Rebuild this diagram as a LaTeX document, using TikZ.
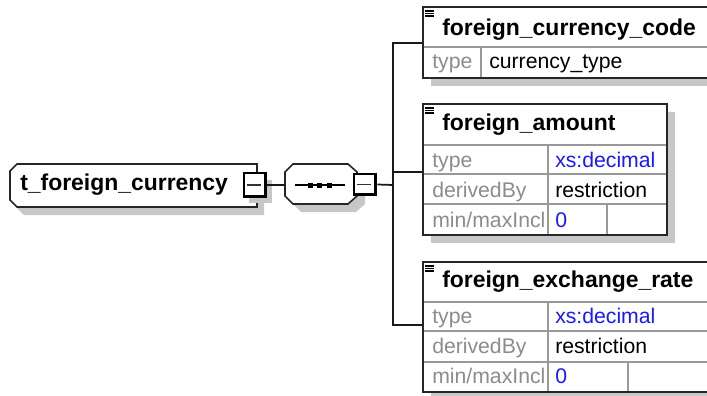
\documentclass[tikz,border=0pt]{standalone}
\usepackage{fontspec}
\setmainfont{Liberation Sans}
\usetikzlibrary{calc}
\usetikzlibrary{positioning}

\tikzset{
 shadow/.style={fill=black!22, draw=none},
 frame/.style={draw=black!85, line width=1.5pt},
 rule/.style={draw=black!40, line width=1pt},
 conn/.style={draw=black!90, line width=1.3pt},
 minus/.style={draw=black, fill=white, line width=1.5pt, inner sep=0, minimum width=17pt},
 title/.style={anchor=base west, inner sep=0, font=\fontsize{17.2}{20}\selectfont\bfseries},
 lbl/.style={anchor=base west, inner sep=0, text=black!45, font=\fontsize{15.9}{18}\selectfont},
 val/.style={anchor=base west, inner sep=0, font=\fontsize{15.9}{18}\selectfont},
 xsval/.style={val, text=blue!90!white},
}

\begin{document}
\begin{tikzpicture}[x=0.75pt,y=-0.75pt]
\useasboundingbox (0,0) rectangle (707,396);
\clip (0,0) rectangle (707,396);

% shadows
\fill[shadow] (24,172) -- (264,172) -- (264,215) -- (24,215) -- (17,208) -- (17,179) -- cycle;
\fill[shadow] (301,172) -- (356,172) -- (365,180) -- (365,204) -- (356,212) -- (301,212) -- (293,204) -- (293,180) -- cycle;
\fill[shadow] (431,15) rectangle (720,86);
\fill[shadow] (431,112) rectangle (675,243);
\fill[shadow] (431,270) rectangle (716,400);

% complex type t_foreign_currency
\filldraw[frame, fill=white, line width=1.2pt] (17,164) -- (257,164) -- (257,207) -- (17,207) -- (10,200) -- (10,171) -- cycle;
\node[title] (root) at (20,190) {t\_foreign\_currency};
\fill[shadow] (249,180) rectangle (272,203);
\node[minus, minimum height=18.5pt] (rootminus) at (255,185) {};

% sequence
\filldraw[frame, fill=white, line width=1.2pt] (293,164) -- (348,164) -- (357,172) -- (357,196) -- (348,204) -- (293,204) -- (285,196) -- (285,172) -- cycle;
\coordinate (seq) at (285,185);
\draw[black, line width=1.1pt] (295,185) -- (345,185);
\foreach \x in {310,319.5,329} {
 \fill[black] (\x-2.5,182.5) rectangle ++(5,5);
}
\node[minus, minimum height=16pt] (seqminus) at (365,184.5) {};

\foreach \m in {rootminus,seqminus} {
 \draw[black, line width=2.5pt] ([xshift=-1.2pt]\m.north east) -- ([xshift=-1.2pt,yshift=1.2pt]\m.south east) -- ([yshift=1.2pt]\m.south west);
 \draw[black!80, line width=1.3pt] ([xshift=3.5pt]\m.west) -- ([xshift=-4.5pt]\m.east);
}

% connectors
\coordinate (trunk) at (393,185);
\coordinate (code) at (423,43);
\coordinate (amount) at (423,172);
\coordinate (rate) at (423,325);
\draw[conn] (rootminus.east) -- (seq);
\draw[conn] (seqminus.east) -- (trunk);
\draw[conn] (code) -- (code -| trunk) -- (rate -| trunk) -- (rate);
\draw[conn] (amount) -- (amount -| trunk);

% element foreign_currency_code
\fill[white] (423,7) rectangle (712,78);
\draw[rule] (423,47) --++(289,0);
\draw[rule] (481,47) --++(0,31);
\draw[frame] (423,7) rectangle (712,78);
\node[title] (codename) at (442,35) {foreign\_currency\_code};
\node[lbl] at (432,68) {type};
\node[val] at (489,68) {currency\_type};

% element foreign_amount
\fill[white] (423,104) rectangle (667,235);
\foreach \y in {145,174,204} {
 \draw[rule] (423,\y) --++(244,0);
}
\draw[rule] (548,145) -- (548,235);
\draw[rule] (607,204) -- (607,235);
\draw[frame] (423,104) rectangle (667,235);
\node[title] (amountname) at (442,130) {foreign\_amount};
\node[lbl] at (432,167) {type};
\node[xsval] at (555,167) {xs:decimal};
\node[lbl] at (432,197) {derivedBy};
\node[val] at (555,197) {restriction};
\node[lbl] at (432,227) {min/maxIncl};
\node[xsval] at (555,227) {0};

% element foreign_exchange_rate
\fill[white] (423,262) rectangle (708,392);
\foreach \y in {302,331,362} {
 \draw[rule] (423,\y) --++(285,0);
}
\draw[rule] (548,302) -- (548,392);
\draw[rule] (628,362) -- (628,392);
\draw[frame] (423,262) rectangle (708,392);
\node[title] (ratename) at (442,287) {foreign\_exchange\_rate};
\node[lbl] at (432,323) {type};
\node[xsval] at (555,323) {xs:decimal};
\node[lbl] at (432,353) {derivedBy};
\node[val] at (555,353) {restriction};
\node[lbl] at (432,383) {min/maxIncl};
\node[xsval] at (555,383) {0};

% element icons
\foreach \t in {7,104,262} {
 \foreach \d in {4,6.5,9} {
  \draw[black, line width=1pt] (425,\t+\d) --++(9,0);
 }
}
\end{tikzpicture}
\end{document}
